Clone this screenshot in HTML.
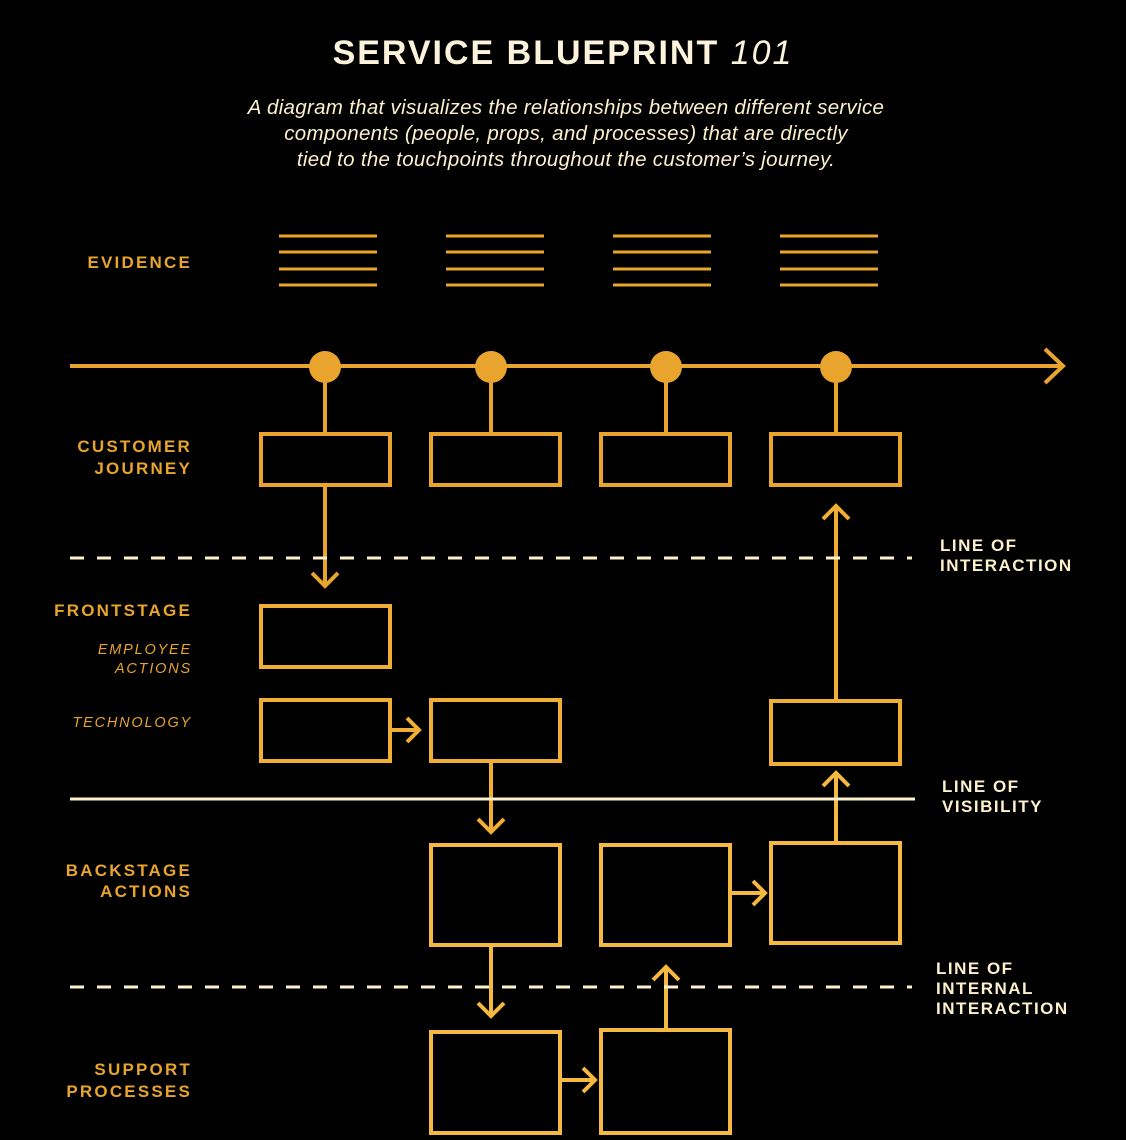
<!DOCTYPE html>
<html><head><style>
body{margin:0;background:#000;}
svg{display:block}
</style></head><body>
<svg width="1126" height="1140" viewBox="0 0 1126 1140" xmlns="http://www.w3.org/2000/svg" font-family="Liberation Sans, sans-serif">
<rect width="1126" height="1140" fill="#000"/>
<text x="563" y="64" text-anchor="middle" fill="#fdf3dc" font-size="34" font-weight="bold" letter-spacing="2">SERVICE BLUEPRINT <tspan font-weight="normal" font-style="italic">101</tspan></text>
<g fill="#fdf0cc" font-size="20.5" font-style="italic" text-anchor="middle" letter-spacing="0.3">
<text x="566" y="114">A diagram that visualizes the relationships between different service</text>
<text x="566" y="140">components (people, props, and processes) that are directly</text>
<text x="566" y="166">tied to the touchpoints throughout the customer’s journey.</text>
</g>
<g fill="#e8a42c" font-size="17" font-weight="bold" letter-spacing="2.2" text-anchor="end">
<text x="192" y="268">EVIDENCE</text>
<text x="192" y="452">CUSTOMER</text>
<text x="192" y="474">JOURNEY</text>
<text x="192" y="616">FRONTSTAGE</text>
<text x="192" y="876">BACKSTAGE</text>
<text x="192" y="897">ACTIONS</text>
<text x="192" y="1075">SUPPORT</text>
<text x="192" y="1097">PROCESSES</text>
</g>
<g fill="#e8a42c" font-size="14.5" font-style="italic" letter-spacing="1.8" text-anchor="end">
<text x="192" y="654">EMPLOYEE</text>
<text x="192" y="673">ACTIONS</text>
<text x="192" y="727">TECHNOLOGY</text>
</g>
<g fill="#fdf0cc" font-size="17" font-weight="bold" letter-spacing="1.5">
<text x="940" y="551">LINE OF</text>
<text x="940" y="571">INTERACTION</text>
<text x="942" y="792">LINE OF</text>
<text x="942" y="812">VISIBILITY</text>
<text x="936" y="974">LINE OF</text>
<text x="936" y="994">INTERNAL</text>
<text x="936" y="1014">INTERACTION</text>
</g>
<g stroke="#e8a42c" stroke-width="3">
<path d="M279 236H377M279 252H377M279 269H377M279 285H377"/>
<path d="M446 236H544M446 252H544M446 269H544M446 285H544"/>
<path d="M613 236H711M613 252H711M613 269H711M613 285H711"/>
<path d="M780 236H878M780 252H878M780 269H878M780 285H878"/>
</g>
<g stroke="#e8a42c" stroke-width="4" fill="none">
<path d="M70 366H1063M1045 349L1063 366L1045 383"/>
<path d="M325 366V433M491 366V433M666 366V433M836 366V433"/>
<rect x="261" y="434" width="129" height="51"/>
<rect x="431" y="434" width="129" height="51"/>
<rect x="601" y="434" width="129" height="51"/>
<rect x="771" y="434" width="129" height="51"/>
<path d="M325 487V586M312 573L325 586L338 573"/>
</g>
<g fill="#e8a42c"><circle cx="325" cy="367" r="16"/><circle cx="491" cy="367" r="16"/><circle cx="666" cy="367" r="16"/><circle cx="836" cy="367" r="16"/></g>
<g stroke="#f0ae35" stroke-width="4" fill="none">
<rect x="261" y="606" width="129" height="61"/>
<rect x="261" y="700" width="129" height="61"/>
<rect x="431" y="700" width="129" height="61"/>
<rect x="771" y="701" width="129" height="63"/>
<path d="M390 730H419M407 718L419 730L407 742"/>
<path d="M836 700V506M823 519L836 506L849 519"/>
<path d="M491 761V832M478 819L491 832L504 819"/>
</g>
<g stroke="#f5b840" stroke-width="4" fill="none">
<rect x="431" y="845" width="129" height="100"/>
<rect x="601" y="845" width="129" height="100"/>
<rect x="771" y="843" width="129" height="100"/>
<path d="M836 841V773M823 786L836 773L849 786"/>
<path d="M731 893H765M753 881L765 893L753 905"/>
<path d="M491 945V1016M478 1003L491 1016L504 1003"/>
<rect x="431" y="1032" width="129" height="101"/>
<rect x="601" y="1030" width="129" height="103"/>
<path d="M666 1028V967M653 980L666 967L679 980"/>
<path d="M561 1080H595M583 1068L595 1080L583 1092"/>
</g>
<path d="M70 558H912" stroke="#fdf0cc" stroke-width="3" stroke-dasharray="14 13"/>
<path d="M70 799H915" stroke="#fdf0cc" stroke-width="3"/>
<path d="M70 987H912" stroke="#fdf0cc" stroke-width="3" stroke-dasharray="14 13"/>
</svg>
</body></html>
